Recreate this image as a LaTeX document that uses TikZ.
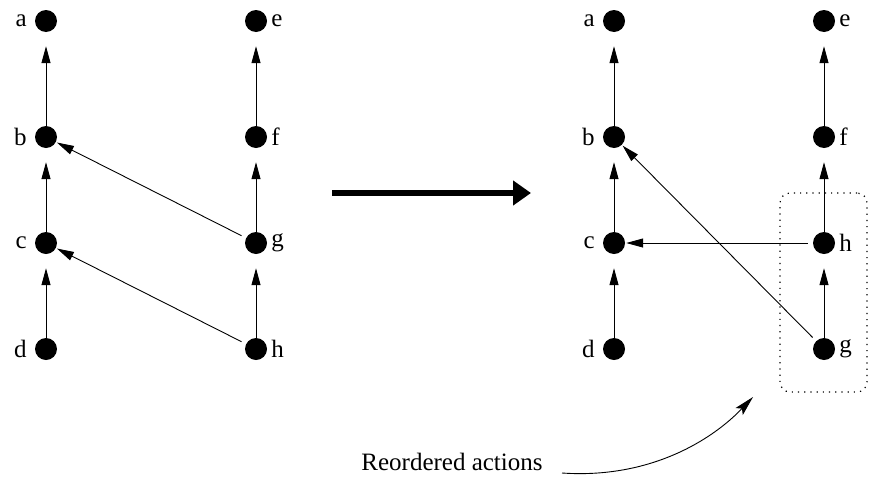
\documentclass[tikz,border=0pt]{standalone}
\usepackage{fontspec}
\setmainfont{Liberation Serif}
\usetikzlibrary{arrows.meta}
\begin{document}
\begin{tikzpicture}[x=1pt,y=-1pt,
  font=\fontsize{25}{30}\selectfont,
  event/.style={circle,fill=black,inner sep=0pt,minimum size=22pt},
  labl/.style={label={[inner sep=1pt,label distance=7pt]left:#1}},
  labr/.style={label={[inner sep=1pt,label distance=3pt]right:#1}},
  dep/.style={line width=0.9pt,-{Triangle[length=17pt,width=9pt]}},
  bigarrow/.style={line width=6pt,-{Triangle[length=18pt,width=24pt]}},
  note/.style={line width=0.9pt,-{Stealth[length=20pt,width=10pt,inset=4pt]}}]
\useasboundingbox (0,0) rectangle (869,482);

% left graph
\node[event,labl=a] (a1) at (46,21) {};
\node[event,labl=b] (b1) at (46,137) {};
\node[event,labl=c] (c1) at (46,243) {};
\node[event,labl=d] (d1) at (46,349) {};
\node[event,labr=e] (e1) at (256,21) {};
\node[event,labr=f] (f1) at (256,137) {};
\node[event,labr=g] (g1) at (256,243) {};
\node[event,labr=h] (h1) at (256,349) {};

\draw[dep,shorten >=14pt] (b1) -- (a1);
\draw[dep,shorten >=14pt] (c1) -- (b1);
\draw[dep,shorten >=14pt] (d1) -- (c1);
\draw[dep,shorten >=14pt] (f1) -- (e1);
\draw[dep,shorten >=14pt] (g1) -- (f1);
\draw[dep,shorten >=14pt] (h1) -- (g1);
\draw[dep,shorten <=5pt,shorten >=1pt] (g1) -- (b1);
\draw[dep,shorten <=5pt,shorten >=1pt] (h1) -- (c1);

% transformation arrow
\coordinate (from) at (332,193);
\coordinate (to) at (531,193);
\draw[bigarrow] (from) -- (to);

% right graph
\node[event,labl=a] (a2) at (614,21) {};
\node[event,labl=b] (b2) at (614,137) {};
\node[event,labl=c] (c2) at (614,243) {};
\node[event,labl=d] (d2) at (614,349) {};
\node[event,labr=e] (e2) at (824,21) {};
\node[event,labr=f] (f2) at (824,137) {};
\node[event,labr=h] (h2) at (824,243) {};
\node[event,labr=g] (g2) at (824,349) {};

\draw[dep,shorten >=14pt] (b2) -- (a2);
\draw[dep,shorten >=14pt] (c2) -- (b2);
\draw[dep,shorten >=14pt] (d2) -- (c2);
\draw[dep,shorten >=14pt] (f2) -- (e2);
\draw[dep,shorten >=14pt] (h2) -- (f2);
\draw[dep,shorten >=14pt] (g2) -- (h2);
\draw[dep,shorten <=5pt,shorten >=1pt] (h2) -- (c2);
\draw[dep,shorten <=5pt,shorten >=1pt] (g2) -- (b2);

% group of reordered actions
\node[draw,line width=1.2pt,dash pattern=on 1.2pt off 5pt,rounded corners=10pt,
      minimum width=87pt,minimum height=199pt,inner sep=0pt] (grp) at (823.5,292.5) {};

% annotation
\node (txt) at (452,462) {Reordered actions};
\coordinate (tail) at (562,473);
\coordinate (tip) at (753,397);
\draw[note] (tail) .. controls (650,479) and (712,440) .. (tip);
\end{tikzpicture}
\end{document}
